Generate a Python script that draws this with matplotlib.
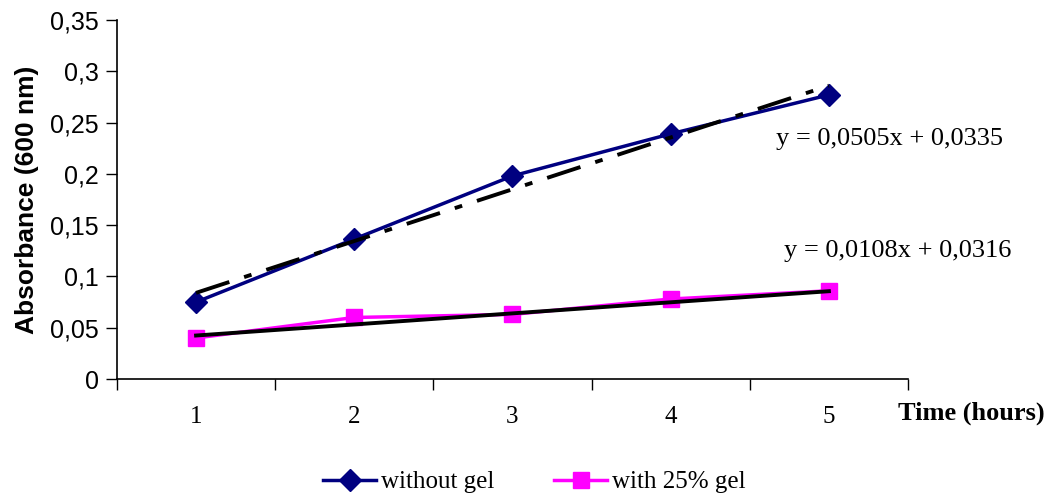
import numpy as np
import matplotlib.pyplot as plt
from matplotlib.lines import Line2D

# data
hours = [1, 2, 3, 4, 5]
without_gel = [0.075, 0.1365, 0.198, 0.239, 0.277]
with_gel = [0.040, 0.060, 0.063, 0.078, 0.086]

# linear trendlines as printed on the chart
fit_without = (0.0505, 0.0335)
fit_with = (0.0108, 0.0316)

yticks = [0, 0.05, 0.1, 0.15, 0.2, 0.25, 0.3, 0.35]
ytick_labels = ['0', '0,05', '0,1', '0,15', '0,2', '0,25', '0,3', '0,35']

serif = 'Liberation Serif'
sans = 'Liberation Sans'

fig = plt.figure(figsize=(10.48, 4.93), dpi=100)
ax = fig.add_axes([0.1116, 0.2312, 0.7548, 0.7282])

x = np.array(hours)
ax.plot(x, without_gel, color='#000080', lw=2.5, marker='D', ms=11,
        label='without gel', zorder=3)
ax.plot(x, with_gel, color='#FF00FF', lw=2.5, marker='s', ms=12,
        label='with 25% gel', zorder=3)

ax.plot(x, fit_without[0] * x + fit_without[1], color='black', lw=2.8,
        ls=(0, (9, 4, 2, 4)), zorder=4)
ax.plot(x, fit_with[0] * x + fit_with[1], color='black', lw=2.8, zorder=4)

ax.set_xlim(0.5, 5.5)
ax.set_ylim(0, 0.35)

# category-style axis: ticks on boundaries, labels centered
ax.set_xticks(np.arange(0.5, 6.0, 1.0))
ax.set_xticklabels([])
ax.tick_params(axis='x', direction='out', length=8, width=1)
for h in hours:
    ax.text(h, -0.037, str(h), ha='center', va='center', fontsize=18,
            family=serif, transform=ax.transData, clip_on=False)

ax.set_yticks(yticks)
ax.set_yticklabels(ytick_labels, fontsize=18, family=sans)
ax.tick_params(axis='y', direction='out', length=8, width=1, pad=5)

for s in ['top', 'right']:
    ax.spines[s].set_visible(False)
for s in ['left', 'bottom']:
    ax.spines[s].set_linewidth(1.2)

ax.set_ylabel('Absorbance (600 nm)', fontsize=19, fontweight='bold',
              family=sans, labelpad=8)
fig.text(0.9265, 0.162, 'Time (hours)', fontsize=19, fontweight='bold',
         family=serif, ha='center', va='center')

ax.text(0.849, 0.719, 'y = 0,0505x + 0,0335', fontsize=19, family=serif,
        ha='center', va='center', transform=fig.transFigure)
ax.text(0.857, 0.491, 'y = 0,0108x + 0,0316', fontsize=19, family=serif,
        ha='center', va='center', transform=fig.transFigure)

handles = [
    Line2D([], [], color='#000080', lw=2.5, marker='D', ms=11),
    Line2D([], [], color='#FF00FF', lw=2.5, marker='s', ms=12),
]
fig.legend(handles, ['without gel', 'with 25% gel'], loc='center',
           bbox_to_anchor=(0.51, 0.022), ncol=2, frameon=False,
           prop={'family': serif, 'size': 18}, handlelength=2.1,
           handletextpad=0.2, columnspacing=2.4)

fig.savefig('out.png', dpi=100)
